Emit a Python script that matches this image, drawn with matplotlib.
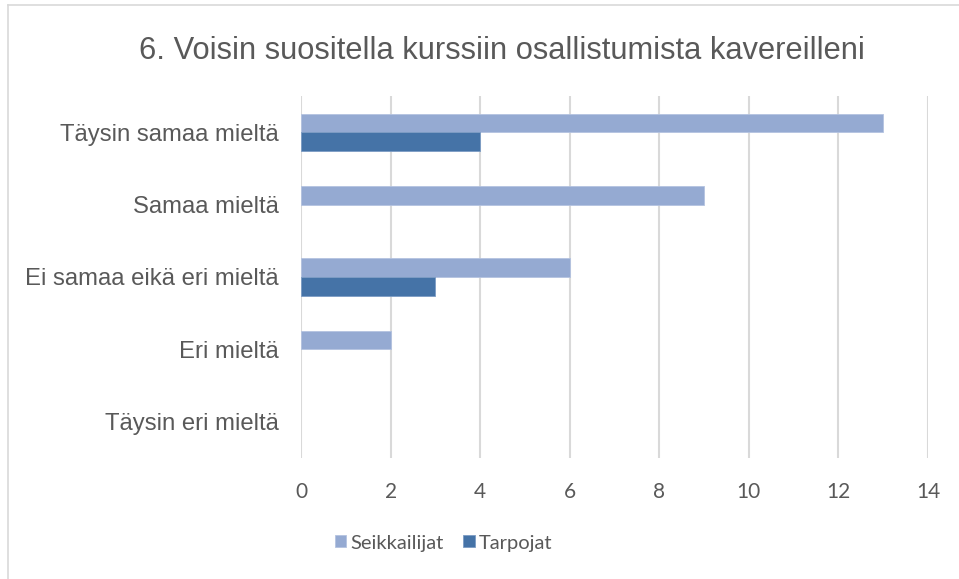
import matplotlib.pyplot as plt
import numpy as np

title = '6. Voisin suositella kurssiin osallistumista kavereilleni'
categories = ['Täysin samaa mieltä', 'Samaa mieltä', 'Ei samaa eikä eri mieltä',
              'Eri mieltä', 'Täysin eri mieltä']
seikkailijat = [13, 9, 6, 2, 0]
tarpojat = [4, 0, 3, 0, 0]
x_ticks = [0, 2, 4, 6, 8, 10, 12, 14]

light = '#95aad2'
dark = '#4573a7'
text_color = '#595959'

fig = plt.figure(figsize=(9.59, 5.79), dpi=100)
ax = fig.add_axes([301 / 959, 1 - 458 / 579, 627 / 959, 362 / 579])

y = np.arange(len(categories))
h = 0.258
# no edge on empty bars so they don't leave a sliver at zero
ax.barh(y - h / 2, seikkailijat, height=h, color=light, edgecolor='#b4c3e0',
        linewidth=[0.6 if v else 0 for v in seikkailijat], label='Seikkailijat', zorder=3)
ax.barh(y + h / 2, tarpojat, height=h, color=dark, edgecolor='#7c9cc4',
        linewidth=[0.6 if v else 0 for v in tarpojat], label='Tarpojat', zorder=3)

ax.set_xlim(0, 14)
ax.set_ylim(len(categories) - 0.5, -0.5)
ax.set_xticks(x_ticks)
ax.set_yticks(y)
ax.set_yticklabels(categories, fontsize=17.2, color=text_color, family='Liberation Sans')
ax.tick_params(axis='x', labelsize=15, labelcolor=text_color, length=0, pad=17)
ax.tick_params(axis='y', length=0, pad=16)
for lab in ax.get_xticklabels():
    lab.set_family(['Lato', 'DejaVu Sans'])
ax.grid(axis='x', color='#d9d9d9', linewidth=1.5, zorder=0)
for s in ax.spines.values():
    s.set_visible(False)

fig.text(502 / 959, 1 - 51 / 579, title, ha='center', va='center', fontsize=22.2,
         color=text_color, family='Liberation Sans')

leg = ax.legend(loc='center', bbox_to_anchor=(443.5 / 959, 1 - 543 / 579),
                bbox_transform=fig.transFigure, ncol=2, frameon=False,
                handlelength=0.55, handleheight=0.55, handletextpad=0.2,
                columnspacing=1.0, prop={'family': 'Lato', 'size': 14.5})
for t in leg.get_texts():
    t.set_color(text_color)

# chart border (only left and top edges visible in the crop)
fig.add_artist(plt.Line2D([8 / 959, 8 / 959], [0, 1 - 5 / 579], color='#d9d9d9',
                          linewidth=1.2, transform=fig.transFigure))
fig.add_artist(plt.Line2D([8 / 959, 1], [1 - 5 / 579, 1 - 5 / 579], color='#d9d9d9',
                          linewidth=1.2, transform=fig.transFigure))

fig.savefig('out.png', dpi=100)
